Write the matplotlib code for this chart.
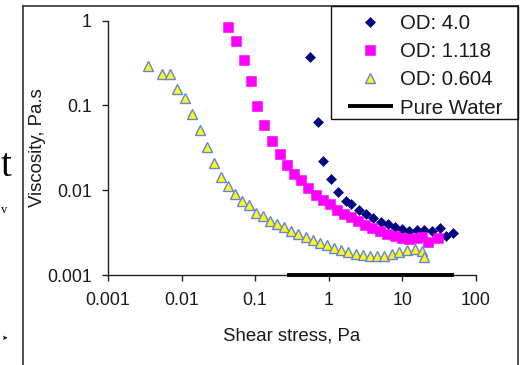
import matplotlib
matplotlib.use("Agg")
import matplotlib.pyplot as plt
from matplotlib.lines import Line2D
from matplotlib.patches import Rectangle
from matplotlib.ticker import FixedLocator, FixedFormatter, NullLocator

# Shear stress (Pa) and viscosity (Pa.s) for each suspension
od40_stress = [0.558, 0.706, 0.830, 1.067, 1.355, 1.72, 2.03, 2.61, 3.27, 4.07,
               5.12, 6.42, 8.11, 10.1, 12.5, 15.8, 19.8, 25.2, 32.4, 39.2, 49.6]
od40_visc = [0.373, 0.0633, 0.0223, 0.01346, 0.00959, 0.00753, 0.00684, 0.00585,
             0.00518, 0.00467, 0.00426, 0.00397, 0.00372, 0.00347, 0.00334,
             0.00337, 0.00335, 0.00330, 0.00359, 0.00292, 0.00316]

od1118_stress = [0.0433, 0.0551, 0.0706, 0.0881, 0.106, 0.134, 0.171, 0.216, 0.272,
                 0.341, 0.421, 0.530, 0.664, 0.826, 1.035, 1.30, 1.62, 2.01, 2.51,
                 3.13, 3.95, 5.00, 6.22, 7.87, 9.95, 12.4, 15.4, 18.6, 22.4, 31.0]
od1118_visc = [0.832, 0.573, 0.344, 0.196, 0.0994, 0.0583, 0.0376, 0.0270, 0.0201,
               0.0157, 0.0131, 0.01077, 0.00867, 0.00757, 0.00679, 0.00589,
               0.00529, 0.00480, 0.00436, 0.00394, 0.00356, 0.00329, 0.00307,
               0.00289, 0.00275, 0.00266, 0.00270, 0.00283, 0.00247, 0.00271]

od0604_stress = [0.00353, 0.00547, 0.00697, 0.00875, 0.01114, 0.0140, 0.01766,
                 0.0222, 0.0273, 0.0340, 0.0429, 0.0533, 0.0664, 0.0826, 0.1028,
                 0.127, 0.160, 0.199, 0.247, 0.308, 0.389, 0.488, 0.619, 0.771,
                 0.951, 1.18, 1.48, 1.85, 2.34, 2.92, 3.62, 4.55, 5.75, 7.28,
                 9.20, 11.7, 14.9, 18.4, 20.1]
od0604_visc = [0.292, 0.233, 0.233, 0.155, 0.1215, 0.0793, 0.0514, 0.0326, 0.0208,
               0.01445, 0.01122, 0.00903, 0.00753, 0.00664, 0.00546, 0.00494,
               0.00436, 0.00403, 0.00366, 0.00334, 0.00305, 0.00281, 0.00259,
               0.00239, 0.00226, 0.00211, 0.00197, 0.00187, 0.00177, 0.00171,
               0.00169, 0.00169, 0.00169, 0.00177, 0.00185, 0.00197, 0.00204,
               0.00193, 0.00162]

water_stress = [0.272, 50.7]
water_visc = [0.001, 0.001]

x_ticks = [0.001, 0.01, 0.1, 1, 10, 100]
x_tick_labels = ["0.001", "0.01", "0.1", "1", "10", "100"]
y_ticks = [0.001, 0.01, 0.1, 1]
y_tick_labels = ["0.001", "0.01", "0.1", "1"]

W, H = 525, 365
plt.rcParams["font.family"] = ["Liberation Sans", "DejaVu Sans"]
fig = plt.figure(figsize=(W / 100, H / 100), dpi=100)
fig.patch.set_facecolor("white")

ax = fig.add_axes([108 / W, 1 - 275 / H, (475.7 - 108) / W, (275 - 20.7) / H])
ax.set_xscale("log")
ax.set_yscale("log")
ax.set_xlim(0.001, 100)
ax.set_ylim(0.001, 1)

ax.plot(od40_stress, od40_visc, ls="none", marker="D", ms=5.4,
        mfc="#000080", mec="#000080", mew=0.4, label="OD: 4.0", zorder=3)
ax.plot(od1118_stress, od1118_visc, ls="none", marker="s", ms=6.6,
        mfc="#ff00ff", mec="#ff00ff", mew=0.4, label="OD: 1.118", zorder=3)
ax.plot(od0604_stress, od0604_visc, ls="none", marker="^", ms=7.4,
        mfc="#ffff00", mec="#6482ec", mew=1.0, label="OD: 0.604", zorder=3)
ax.plot(water_stress, water_visc, color="black", lw=2.8, solid_capstyle="butt",
        label="Pure Water", clip_on=False, zorder=4)

for side in ("top", "right"):
    ax.spines[side].set_visible(False)
for side in ("left", "bottom"):
    ax.spines[side].set_color("#222222")
    ax.spines[side].set_linewidth(1.0)

ax.xaxis.set_major_locator(FixedLocator(x_ticks))
ax.xaxis.set_major_formatter(FixedFormatter(x_tick_labels))
ax.yaxis.set_major_locator(FixedLocator(y_ticks))
ax.yaxis.set_major_formatter(FixedFormatter(y_tick_labels))
ax.xaxis.set_minor_locator(NullLocator())
ax.yaxis.set_minor_locator(NullLocator())
ax.tick_params(axis="both", direction="out", length=4.5, width=1.0,
               color="#222222", labelsize=12.8, labelcolor="#1a1a1a")
ax.tick_params(axis="x", pad=7.5)
ax.tick_params(axis="y", pad=7.2)

ax.set_xlabel("Shear stress, Pa", fontsize=13.4, color="#1a1a1a")
ax.set_ylabel("Viscosity, Pa.s", fontsize=13.4, color="#1a1a1a")
ax.xaxis.set_label_coords(0.4996, -0.205)
ax.yaxis.set_label_coords(-0.168, 0.5)

# Legend box
fig.patches.append(Rectangle((331 / W, 1 - 119 / H), (518 - 331) / W, (119 - 6) / H,
                             transform=fig.transFigure, fill=False,
                             edgecolor="#111111", lw=1.0, zorder=5))
leg = fig.legend(loc="center left", bbox_to_anchor=(348 / W, 1 - 65.8 / H),
                 bbox_transform=fig.transFigure, frameon=False, fontsize=14.7,
                 borderpad=0, borderaxespad=0, handlelength=2.2,
                 handletextpad=0.35, labelspacing=0.45, markerscale=1.0)
for t in leg.get_texts():
    t.set_color("#1a1a1a")

# Surrounding frame
frame_kw = dict(transform=fig.transFigure, color="#333333", lw=1.2)
fig.add_artist(Line2D([23 / W, 23 / W], [0, 1 - 5.7 / H], **frame_kw))
fig.add_artist(Line2D([23 / W, 518 / W], [1 - 5.7 / H, 1 - 5.7 / H], **frame_kw))
fig.add_artist(Line2D([518 / W, 518 / W], [0, 1 - 5.7 / H], **frame_kw))

# Edge of the neighbouring slide text
fig.text(0.5 / W, 1 - 176 / H, "t", family="Liberation Serif", fontsize=28,
         ha="left", va="baseline", color="black")
fig.text(1 / W, 1 - 213 / H, "v", family="Liberation Serif", fontsize=9,
         ha="left", va="baseline", color="black")
fig.text(1 / W, 1 - 338 / H, "\u27a4", family="DejaVu Sans", fontsize=5,
         ha="left", va="center", color="black")

fig.savefig("out.png", dpi=100)
